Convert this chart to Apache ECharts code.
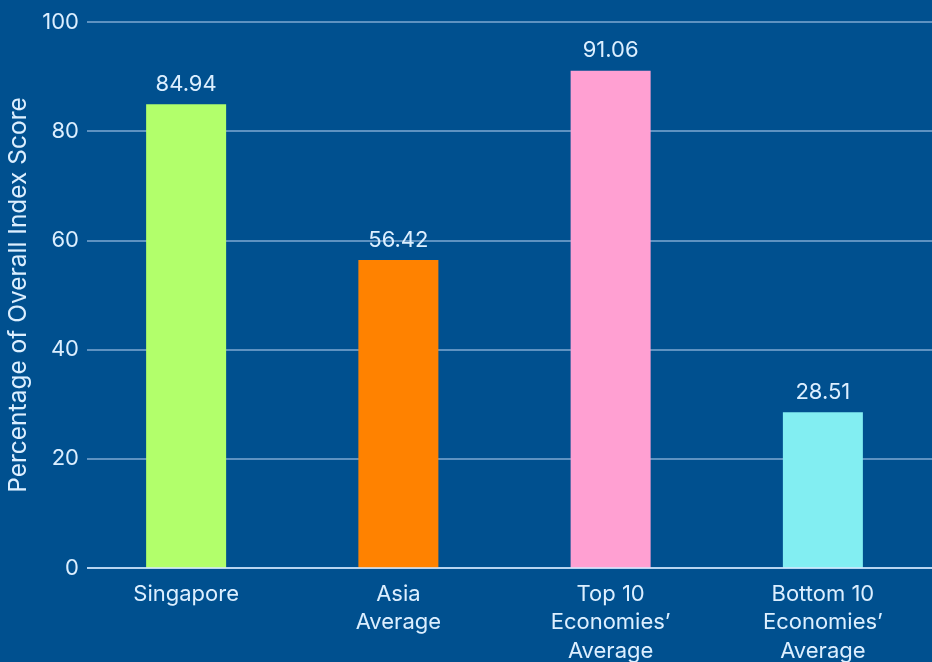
<!DOCTYPE html>
<html>
<head>
<meta charset="utf-8">
<script src="https://cdn.jsdelivr.net/npm/echarts@6/dist/echarts.min.js"></script>
<style>
  html, body { margin: 0; padding: 0; background: #00508f; }
  #chart { width: 932px; height: 662px; }
</style>
</head>
<body>
<div id="chart"></div>
<script>
// categories and scores
var categories = ["Singapore", "Asia\nAverage", "Top 10\nEconomies’\nAverage", "Bottom 10\nEconomies’\nAverage"];
var scores = [84.94, 56.42, 91.06, 28.51];
var barColors = ["#b2ff6b", "#ff8200", "#ffa0d2", "#82eef2"];
var yTicks = [0, 20, 40, 60, 80, 100];

var textColor = "#dcefff";
var chart = echarts.init(document.getElementById("chart"));

var option = {
  animation: false,
  backgroundColor: "#00508f",
  textStyle: { fontFamily: "Inter, 'Noto Sans', sans-serif" },
  grid: [
    // grid for the gridlines and tick labels
    { left: 87, right: 0, top: 22, bottom: 94, outerBoundsMode: "none", containLabel: false },
    // grid for the bars
    { left: 80, right: 3, top: 22, bottom: 94, outerBoundsMode: "none", containLabel: false }
  ],
  xAxis: [
    { gridIndex: 0, type: "category", data: categories, show: false },
    {
      gridIndex: 1,
      type: "category",
      data: categories,
      axisLine: { show: false },
      axisTick: { show: false },
      axisLabel: {
        color: textColor,
        fontSize: 22,
        lineHeight: 28.5,
        margin: 12,
        interval: 0
      }
    }
  ],
  yAxis: [
    {
      gridIndex: 0,
      type: "value",
      min: 0,
      max: 100,
      interval: 20,
      name: "Percentage of Overall Index Score",
      nameLocation: "middle",
      nameGap: 54,
      nameTextStyle: { color: textColor, fontSize: 24.5 },
      axisLine: { show: false },
      axisTick: { show: false },
      axisLabel: {
        color: textColor,
        fontSize: 22,
        margin: 8,
        formatter: function (v) { return yTicks.indexOf(v) >= 0 ? String(v) : ""; }
      },
      splitLine: {
        lineStyle: { color: "#7ea8d2", width: 1.5 }
      }
    },
    { gridIndex: 1, type: "value", min: 0, max: 100, interval: 20, show: false }
  ],
  series: [
    {
      type: "bar",
      xAxisIndex: 1,
      yAxisIndex: 1,
      barWidth: 80,
      data: scores.map(function (v, i) {
        return { value: v, itemStyle: { color: barColors[i], borderWidth: 0 } };
      }),
      label: {
        show: true,
        position: "top",
        distance: 9,
        color: textColor,
        fontSize: 22,
        formatter: function (p) { return p.value.toFixed(2); }
      },
      z: 3
    },
    {
      // baseline at 0
      type: "line",
      xAxisIndex: 0,
      yAxisIndex: 0,
      data: [],
      z: 4,
      markLine: {
        silent: true,
        symbol: "none",
        label: { show: false },
        lineStyle: { color: "#d6eaff", width: 1.5, type: "solid" },
        data: [{ yAxis: 0 }]
      }
    }
  ]
};

chart.setOption(option);
</script>
</body>
</html>
